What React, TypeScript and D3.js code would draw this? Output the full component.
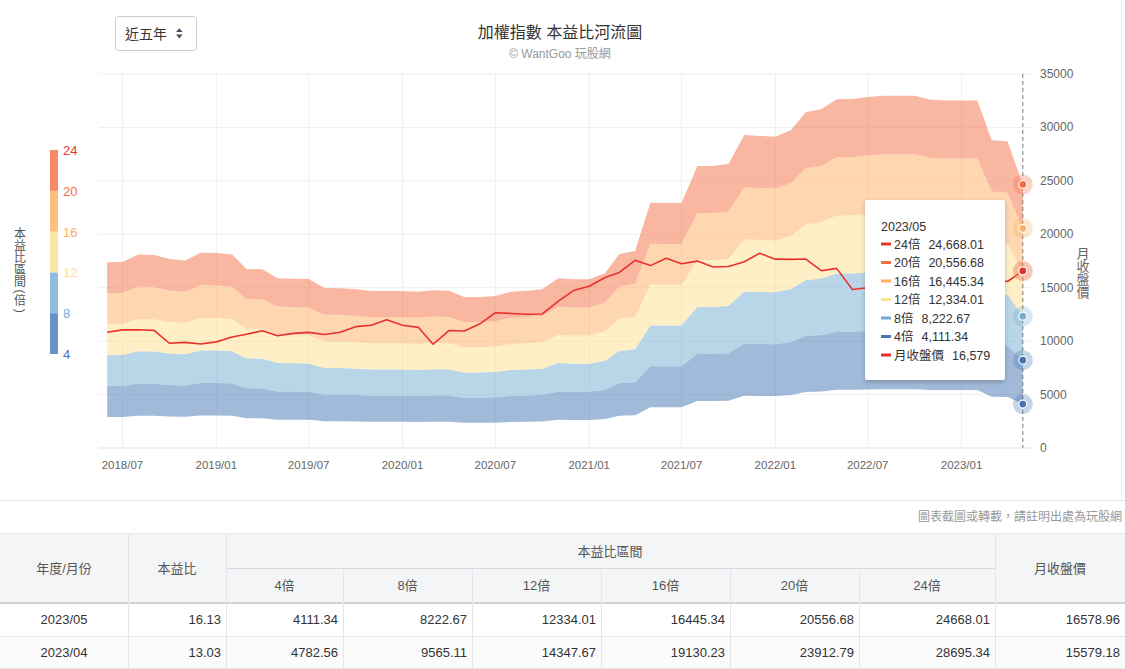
import React from 'react';
import * as d3 from 'd3';

// monthly data, 2018/06 .. 2023/05
const months = [
  '2018/06', '2018/07', '2018/08', '2018/09', '2018/10', '2018/11', '2018/12',
  '2019/01', '2019/02', '2019/03', '2019/04', '2019/05', '2019/06', '2019/07', '2019/08', '2019/09', '2019/10', '2019/11', '2019/12',
  '2020/01', '2020/02', '2020/03', '2020/04', '2020/05', '2020/06', '2020/07', '2020/08', '2020/09', '2020/10', '2020/11', '2020/12',
  '2021/01', '2021/02', '2021/03', '2021/04', '2021/05', '2021/06', '2021/07', '2021/08', '2021/09', '2021/10', '2021/11', '2021/12',
  '2022/01', '2022/02', '2022/03', '2022/04', '2022/05', '2022/06', '2022/07', '2022/08', '2022/09', '2022/10', '2022/11', '2022/12',
  '2023/01', '2023/02', '2023/03', '2023/04', '2023/05',
];

// trailing EPS (band value = multiple x eps)
const eps = [
  724, 725, 755, 753, 737, 731, 761,
  760, 755, 698, 697, 662, 660, 659, 624, 623, 619, 612, 612,
  612, 609, 615, 613, 589, 589, 593, 609, 613, 619, 662, 658,
  658, 681, 756, 768, 956, 955, 955, 1100, 1100, 1107, 1220, 1217,
  1214, 1240, 1309, 1321, 1360, 1361, 1369, 1374, 1374, 1374, 1358, 1355,
  1355, 1355, 1200, 1195.64, 1027.84,
];

const closePrice = [
  10836, 11057, 11063, 11006, 9802, 9888, 9727,
  9932, 10389, 10641, 10967, 10498, 10730, 10823, 10618, 10829, 11358, 11489, 11997,
  11495, 11292, 9708, 10992, 10943, 11621, 12664, 12592, 12516, 12546, 13722, 14732,
  15138, 15953, 16431, 17567, 17068, 17755, 17247, 17490, 16935, 16987, 17428, 18219,
  17674, 17652, 17693, 16593, 16808, 14826, 15000, 15095, 13425, 12949, 14880, 14138,
  15265, 15504, 15868, 15579.18, 16578.96,
];

const multiples = [4, 8, 12, 16, 20, 24];
const multColors = ['#4575b4', '#74add1', '#fee090', '#fdae61', '#f46d43', '#e8392c'];
const markerColors = ['#4575b4', '#4575b4', '#74add1', '#fee090', '#fdae61', '#f46d43'];
const lineColor = '#e8312c';

const xTicks = ['2018/07', '2019/01', '2019/07', '2020/01', '2020/07', '2021/01', '2021/07', '2022/01', '2022/07', '2023/01'];
const yTicks = [0, 5000, 10000, 15000, 20000, 25000, 30000, 35000];

// table
const tableMonths = ['2023/05', '2023/04'];
const tablePE = [16.13, 13.03];
const tableBands = [
  [4111.34, 8222.67, 12334.01, 16445.34, 20556.68, 24668.01],
  [4782.56, 9565.11, 14347.67, 19130.23, 23912.79, 28695.34],
];
const tableClose = [16578.96, 15579.18];

const FONT = "'Liberation Sans', 'Noto Sans CJK TC', sans-serif";

// stacked vertical label: CJK upright, brackets turned
const VerticalLabel = ({ text, x, y0, step, size, color }: any) => {
  let pos = y0;
  const items = Array.from(text as string).map((ch, i) => {
    const narrow = ch === '(' || ch === ')';
    const adv = narrow ? step * 0.6 : step;
    const cy = pos + adv / 2;
    pos += adv;
    return (
      <text key={i} x={x} y={cy} textAnchor="middle" dominantBaseline="central" fontSize={size} fill={color}
        transform={narrow ? `rotate(90,${x},${cy})` : undefined}>{ch}</text>
    );
  });
  return <g>{items}</g>;
};

export default function App() {
  const parse = d3.timeParse('%Y/%m');
  const dates = months.map(m => parse(m) as Date);
  const x = d3.scaleTime()
    .domain([new Date(2018, 4, 16), new Date(2023, 4, 21)])
    .range([99, 1033]);
  const y = d3.scaleLinear().domain([0, 35000]).range([448, 74]);
  const last = months.length - 1;
  const xLast = x(dates[last]);

  const bands = multiples.slice(0, -1).map((lo, i) => {
    const hi = multiples[i + 1];
    const gen = d3.area<number>()
      .x((_, j) => x(dates[j]))
      .y0(e => y(e * lo))
      .y1(e => y(e * hi));
    return { d: gen(eps) as string, color: multColors[i] };
  });

  const line = d3.line<number>()
    .x((_, j) => x(dates[j]))
    .y(v => y(v));

  // legend (visual map)
  const lg = d3.scaleLinear().domain([4, 24]).range([354, 150]);

  // tooltip rows
  const tipRows = multiples.map((m, i) => ({
    name: `${m}倍`,
    value: d3.format(',.2f')(tableBands[0][i]),
    color: multColors[i],
  })).reverse();
  tipRows.push({ name: '月收盤價', value: d3.format(',.0f')(tableClose[0]), color: lineColor });

  const cols = [0, 128, 226, 343, 472, 601, 730, 859, 995, 1125];

  return (
    <div style={{ position: 'absolute', left: 0, top: 0, width: 1125, height: 669, overflow: 'hidden', background: '#fff' }}>
      <svg width={1125} height={669} style={{ display: 'block', fontFamily: FONT }}>
        <defs>
          <filter id="tipShadow" x="-20%" y="-20%" width="140%" height="140%">
            <feDropShadow dx="0" dy="2" stdDeviation="2.5" floodColor="#000" floodOpacity="0.22" />
          </filter>
        </defs>

        {/* select box */}
        <rect x={115.5} y={16.5} width={81} height={34} rx={3} fill="#fff" stroke="#c9ced6" />
        <text x={125} y={38.5} fontSize={14} fill="#333">近五年</text>
        <path d="M176,32 L182.6,32 L179.3,28.2 Z" fill="#3d4f63" />
        <path d="M176,34.6 L182.6,34.6 L179.3,38.4 Z" fill="#3d4f63" />

        {/* title */}
        <text x={560} y={38} textAnchor="middle" fontSize={16} fill="#333">加權指數 本益比河流圖</text>
        <text x={560} y={58} textAnchor="middle" fontSize={12} fill="#999">© WantGoo 玩股網</text>

        {/* grid */}
        {yTicks.map(t => (
          <line key={t} x1={99} x2={1033} y1={y(t)} y2={y(t)} stroke={t === 0 ? '#e3e3e3' : '#efefef'} />
        ))}
        {xTicks.map(t => {
          const xx = x(parse(t) as Date);
          return <line key={t} x1={xx} x2={xx} y1={74} y2={448} stroke="#efefef" />;
        })}

        {/* bands */}
        {bands.map((b, i) => (
          <path key={i} d={b.d} fill={b.color} fillOpacity={0.5} />
        ))}

        {/* close line */}
        <path d={line(closePrice) as string} fill="none" stroke={lineColor} strokeWidth={1.6} strokeLinejoin="round" />

        {/* axes labels */}
        {xTicks.map(t => (
          <text key={t} x={x(parse(t) as Date)} y={469} textAnchor="middle" fontSize={11.5} fill="#666">{t}</text>
        ))}
        {yTicks.map(t => (
          <text key={t} x={1040} y={y(t) + 4} fontSize={12} fill="#666">{t}</text>
        ))}
        <VerticalLabel text="月收盤價" x={1083} y0={247} step={13} size={13} color="#666" />

        {/* legend */}
        {multiples.slice(0, -1).map((lo, i) => (
          <rect key={lo} x={50} y={lg(multiples[i + 1])} width={8} height={lg(lo) - lg(multiples[i + 1])} fill={multColors[i]} fillOpacity={0.8} />
        ))}
        {multiples.map((m, i) => (
          <text key={m} x={63} y={lg(m) + 5} fontSize={13} fill={multColors[i]}>{m}</text>
        ))}
        <VerticalLabel text="本益比區間(倍)" x={20} y0={228} step={12} size={12} color="#555" />

        {/* crosshair */}
        <line x1={xLast} x2={xLast} y1={74} y2={448} stroke="#777" strokeDasharray="4,3" />

        {/* hover markers */}
        {multiples.map((m, i) => {
          const cy = y(eps[last] * m);
          return (
            <g key={m}>
              <circle cx={xLast} cy={cy} r={10} fill={markerColors[i]} fillOpacity={0.3} />
              <circle cx={xLast} cy={cy} r={4} fill={markerColors[i]} stroke="#fff" strokeWidth={1.2} />
            </g>
          );
        })}
        <circle cx={xLast} cy={y(closePrice[last])} r={10} fill={lineColor} fillOpacity={0.25} />
        <circle cx={xLast} cy={y(closePrice[last])} r={4} fill={lineColor} stroke="#fff" strokeWidth={1.2} />

        {/* tooltip */}
        <g>
          <rect x={865} y={200} width={140} height={180} rx={2} fill="#fff" filter="url(#tipShadow)" />
          <text x={881} y={231} fontSize={12.5} fill="#333">{months[last]}</text>
          {tipRows.map((r, i) => {
            const cy = 244 + i * 18.5;
            return (
              <g key={r.name}>
                <rect x={881} y={cy - 1.5} width={10} height={3} fill={r.color} />
                <text x={894} y={cy + 4.5} fontSize={12.5} fill="#333">
                  {r.name}
                  <tspan dx={8}>{r.value}</tspan>
                </text>
              </g>
            );
          })}
        </g>

        {/* container border */}
        <line x1={0} x2={1125} y1={500.5} y2={500.5} stroke="#e6e6e6" />
        <line x1={1121.5} x2={1121.5} y1={0} y2={500} stroke="#ececec" />
        <text x={1122} y={521} textAnchor="end" fontSize={12} fill="#999">圖表截圖或轉載，請註明出處為玩股網</text>

        {/* table */}
        <rect x={0} y={533} width={1125} height={70} fill="#f4f5f7" />
        <rect x={0} y={636} width={1125} height={33} fill="#fbfbfc" />
        <line x1={0} x2={1125} y1={533.5} y2={533.5} stroke="#e6e8eb" />
        <line x1={226} x2={995} y1={568.5} y2={568.5} stroke="#d5d8dc" />
        <line x1={0} x2={1125} y1={603} y2={603} stroke="#cfd3d8" strokeWidth={2} />
        <line x1={0} x2={1125} y1={636.5} y2={636.5} stroke="#e6e8eb" />
        <line x1={0} x2={1125} y1={668.5} y2={668.5} stroke="#e6e8eb" />
        {[128, 226, 995].map(c => (
          <line key={c} x1={c + 0.5} x2={c + 0.5} y1={533} y2={669} stroke="#e3e5e8" />
        ))}
        {[343, 472, 601, 730, 859].map(c => (
          <line key={c} x1={c + 0.5} x2={c + 0.5} y1={568} y2={669} stroke="#e3e5e8" />
        ))}
        <text x={64} y={573} textAnchor="middle" fontSize={13} fill="#555">年度/月份</text>
        <text x={177} y={573} textAnchor="middle" fontSize={13} fill="#555">本益比</text>
        <text x={610} y={556} textAnchor="middle" fontSize={13} fill="#555">本益比區間</text>
        <text x={1060} y={573} textAnchor="middle" fontSize={13} fill="#555">月收盤價</text>
        {multiples.map((m, i) => (
          <text key={m} x={(cols[i + 2] + cols[i + 3]) / 2} y={590} textAnchor="middle" fontSize={13} fill="#555">{`${m}倍`}</text>
        ))}
        {tableMonths.map((mo, r) => {
          const ty = 624 + r * 33;
          return (
            <g key={mo} fontSize={13} fill="#333">
              <text x={64} y={ty} textAnchor="middle">{mo}</text>
              <text x={cols[2] - 5} y={ty} textAnchor="end">{tablePE[r].toFixed(2)}</text>
              {tableBands[r].map((v, i) => (
                <text key={i} x={cols[i + 3] - 5} y={ty} textAnchor="end">{v.toFixed(2)}</text>
              ))}
              <text x={cols[9] - 5} y={ty} textAnchor="end">{tableClose[r].toFixed(2)}</text>
            </g>
          );
        })}
      </svg>
    </div>
  );
}
